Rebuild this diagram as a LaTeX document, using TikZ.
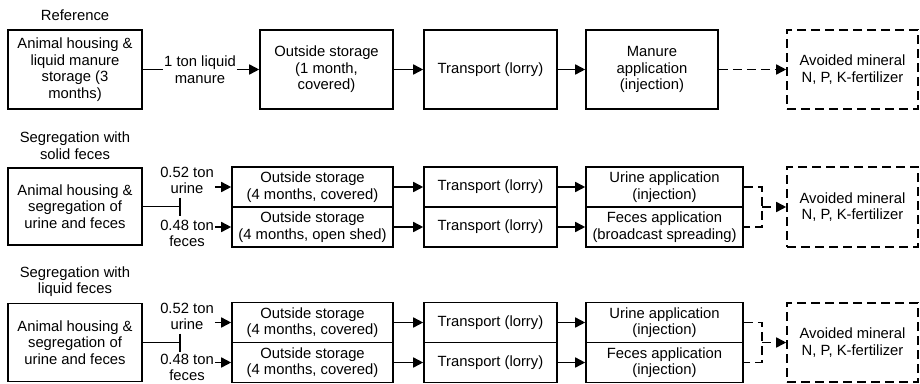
\documentclass[tikz,border=0pt]{standalone}
\usepackage{fontspec}
\setmainfont{Liberation Sans}
\usetikzlibrary{arrows.meta}
\begin{document}
\begin{tikzpicture}[x=1pt,y=-1pt,
            font=\fontsize{14.8}{16.5}\selectfont,
            box/.style={draw,line width=1.6pt,minimum height=79pt,inner sep=0pt,align=center},
            halfbox/.style={draw,line width=1.6pt,minimum height=40pt,inner sep=0pt,align=center},
            txt/.style={inner sep=1pt,align=center},
            line/.style={line width=1.6pt},
            arr/.style={line width=1.6pt,-{Triangle[length=10pt,width=10pt]}},
            dashline/.style={line width=1.6pt,dash pattern=on 9pt off 5pt}]
            \useasboundingbox (0,0) rectangle (920,383);
            \node[txt] (ref) at (75,15) {Reference};
            \node[box,minimum width=134pt] (anim1) at (75,69.5) {Animal housing \&\\liquid manure\\storage (3\\months)};
            \node[txt] (flow1) at (200,69.5) {1 ton liquid\\manure};
            \node[box,minimum width=133pt] (stor1) at (326.5,69.5) {Outside storage\\(1 month,\\covered)};
            \node[box,minimum width=133pt] (trans1) at (490.5,69.5) {Transport (lorry)};
            \node[box,minimum width=132pt] (appl1) at (652,69.5) {Manure\\application\\(injection)};
            \node[box,dashline,minimum width=131pt] (avoid1) at (852.5,69.5) {Avoided mineral\\N, P, K-fertilizer};
            \draw[line] (anim1) -- (flow1);
            \draw[arr] (flow1) -- (stor1);
            \draw[arr] (stor1) -- (trans1);
            \draw[arr] (trans1) -- (appl1);
            \draw[arr,dashline] (appl1) -- (avoid1);
            \node[txt] (seg2) at (75,145.5) {Segregation with\\solid feces};
            \node[box,minimum width=134pt,minimum height=77pt] (anim2) at (75,206.5) {Animal housing \&\\segregation of\\urine and feces};
            \coordinate (fork2) at (180,206.5);
            \draw[line] (anim2) -- (fork2);
            \draw[line] (fork2) ++(0,-9) -- ++(0,18);
            \node[txt] (urine2) at (187,180.5) {0.52 ton\\urine};
            \node[txt] (feces2) at (187,233.5) {0.48 ton\\feces};
            \node[halfbox,minimum width=161pt] (storu2) at (312.5,187) {Outside storage\\(4 months, covered)};
            \node[halfbox,minimum width=161pt] (storf2) at (312.5,227) {Outside storage\\(4 months, open shed)};
            \node[halfbox,minimum width=133pt] (transu2) at (490.5,187) {Transport (lorry)};
            \node[halfbox,minimum width=133pt] (transf2) at (490.5,227) {Transport (lorry)};
            \node[halfbox,minimum width=157pt] (applu2) at (664.5,187) {Urine application\\(injection)};
            \node[halfbox,minimum width=157pt] (applf2) at (664.5,227) {Feces application\\(broadcast spreading)};
            \node[box,dashline,minimum width=131pt,minimum height=80pt] (avoid2) at (852.5,207) {Avoided mineral\\N, P, K-fertilizer};
            \coordinate (join2) at (762,207);
            \draw[arr] (urine2.east |- storu2) -- (storu2);
            \draw[arr] (feces2.east |- storf2) -- (storf2);
            \draw[arr] (storu2) -- (transu2);
            \draw[arr] (storf2) -- (transf2);
            \draw[arr] (transu2) -- (applu2);
            \draw[arr] (transf2) -- (applf2);
            \draw[dashline] (applu2) -| (join2) |- (applf2);
            \draw[arr,dashline] (join2) -- (avoid2);
            \node[txt] (seg3) at (75,281.5) {Segregation with\\liquid feces};
            \node[box,minimum width=134pt,minimum height=78pt] (anim3) at (75,342.5) {Animal housing \&\\segregation of\\urine and feces};
            \coordinate (fork3) at (180,342.5);
            \draw[line] (anim3) -- (fork3);
            \draw[line] (fork3) ++(0,-9) -- ++(0,18);
            \node[txt] (urine3) at (187,316.5) {0.52 ton\\urine};
            \node[txt] (feces3) at (187,367.5) {0.48 ton\\feces};
            \node[halfbox,minimum width=161pt] (storu3) at (312.5,322.5) {Outside storage\\(4 months, covered)};
            \node[halfbox,minimum width=161pt] (storf3) at (312.5,362.5) {Outside storage\\(4 months, covered)};
            \node[halfbox,minimum width=133pt] (transu3) at (490.5,322.5) {Transport (lorry)};
            \node[halfbox,minimum width=133pt] (transf3) at (490.5,362.5) {Transport (lorry)};
            \node[halfbox,minimum width=157pt] (applu3) at (664.5,322.5) {Urine application\\(injection)};
            \node[halfbox,minimum width=157pt] (applf3) at (664.5,362.5) {Feces application\\(injection)};
            \node[box,dashline,minimum width=131pt,minimum height=79pt] (avoid3) at (852.5,342.5) {Avoided mineral\\N, P, K-fertilizer};
            \coordinate (join3) at (762,342.5);
            \draw[arr] (urine3.east |- storu3) -- (storu3);
            \draw[arr] (feces3.east |- storf3) -- (storf3);
            \draw[arr] (storu3) -- (transu3);
            \draw[arr] (storf3) -- (transf3);
            \draw[arr] (transu3) -- (applu3);
            \draw[arr] (transf3) -- (applf3);
            \draw[dashline] (applu3) -| (join3) |- (applf3);
            \draw[arr,dashline] (join3) -- (avoid3);
        \end{tikzpicture}
\end{document}
